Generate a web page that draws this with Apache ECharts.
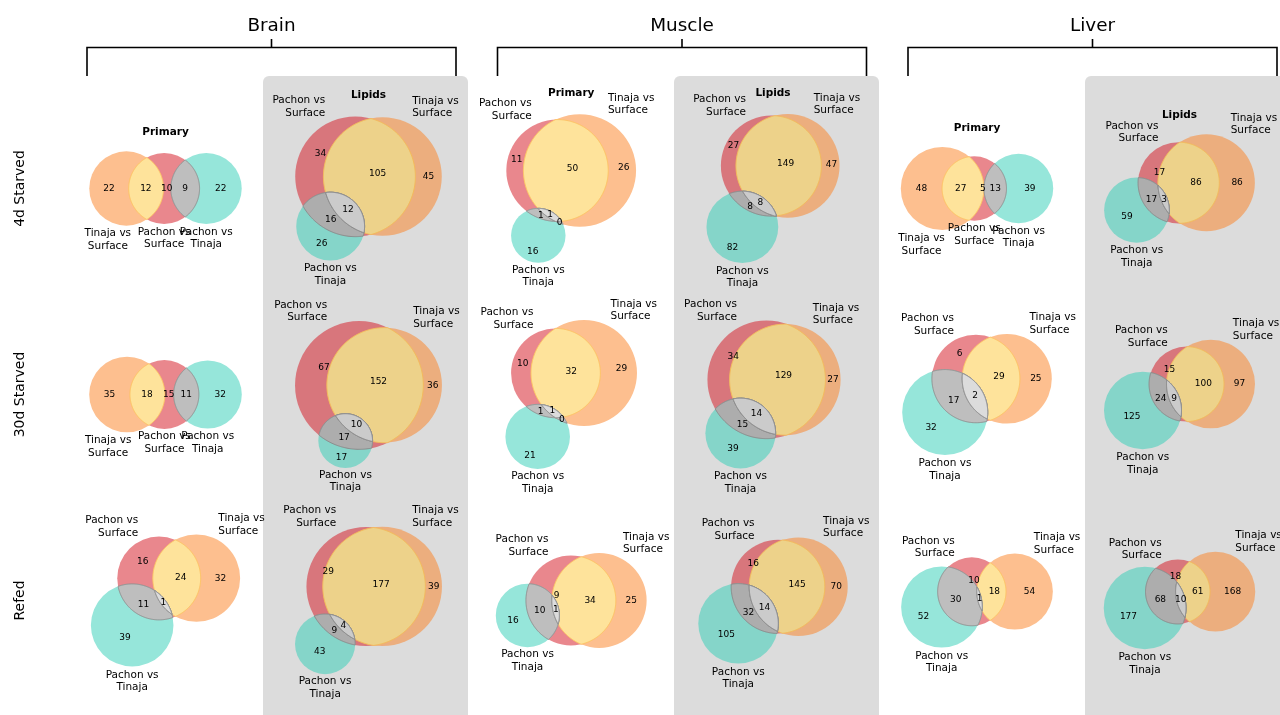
<!DOCTYPE html>
<html><head><meta charset="utf-8">
<script src="https://cdn.jsdelivr.net/npm/echarts@6/dist/echarts.min.js"></script>
<style>html,body{margin:0;padding:0;background:#fff}#c{width:1280px;height:715px}</style>
</head><body><div id="c"></div>
<script>
// ---------------- DATA ----------------
const rowNames = ['4d Starved', '30d Starved', 'Refed'];
const tissues = ['Brain', 'Muscle', 'Liver'];
const panelKinds = ['Primary', 'Lipids'];
const setLabels = ['Pachon vs\nSurface', 'Tinaja vs\nSurface', 'Pachon vs\nTinaja'];
// subset counts per row (4d, 30d, Refed), order:
// [A only, B only, A∩B, C only, A∩C, B∩C, A∩B∩C]
// A = Pachon vs Surface, B = Tinaja vs Surface, C = Pachon vs Tinaja
const brainPrimary  = [[10, 22, 12, 22, 9, 0, 0], [15, 35, 18, 32, 11, 0, 0], [16, 32, 24, 39, 11, 0, 1]];
const brainLipids   = [[34, 45, 105, 26, 16, 0, 12], [67, 36, 152, 17, 17, 0, 10], [29, 39, 177, 43, 9, 0, 4]];
const musclePrimary = [[11, 26, 50, 16, 1, 0, 1], [10, 29, 32, 21, 1, 0, 1], [9, 25, 34, 16, 10, 0, 1]];
const muscleLipids  = [[27, 47, 149, 82, 8, 0, 8], [34, 27, 129, 39, 15, 0, 14], [16, 70, 145, 105, 32, 0, 14]];
const liverPrimary  = [[5, 48, 27, 39, 13, 0, 0], [6, 25, 29, 32, 17, 0, 2], [10, 54, 18, 52, 30, 0, 1]];
const liverLipids   = [[17, 86, 86, 59, 17, 0, 3], [15, 97, 100, 125, 24, 0, 9], [18, 168, 61, 177, 68, 0, 10]];
const vennData = [[brainPrimary, brainLipids], [musclePrimary, muscleLipids], [liverPrimary, liverLipids]];

// ---------------- LAYOUT / STYLE ----------------
const colX = [165.5, 368.5, 571.2, 773, 977, 1179.5];
const rowY = [188.5, 394.5, 600.5];
const tissueX = [271.5, 682, 1092.5];
const grayLeft = [263, 674, 1085];
const BOX = 172, MARGIN = 0.1;
const FONT = '"DejaVu Sans", sans-serif';
const WHITE = [255, 255, 255], GRAYBG = [220, 220, 220];
const BASE = {A: [211, 15, 27], B: [251, 127, 31], C: [45, 205, 181], AB: [253, 199, 55],
              AC: [125, 125, 125], BC: [135, 135, 135], ABC: [185, 185, 185]};
function mixA(c, bg, a) { return c.map((v, i) => v * a + bg[i] * (1 - a)); }
function rgb(c) { return 'rgb(' + c.map(v => Math.round(v)).join(',') + ')'; }

// ---------------- VENN GEOMETRY (area-proportional) ----------------
function lensArea(r1, r2, d) {
  if (d >= r1 + r2) return 0;
  if (d <= Math.abs(r1 - r2)) return Math.PI * Math.min(r1, r2) ** 2;
  const a1 = Math.acos((d * d + r1 * r1 - r2 * r2) / (2 * d * r1));
  const a2 = Math.acos((d * d + r2 * r2 - r1 * r1) / (2 * d * r2));
  return r1 * r1 * a1 + r2 * r2 * a2 - 0.5 * Math.sqrt((-d + r1 + r2) * (d + r1 - r2) * (d - r1 + r2) * (d + r1 + r2));
}
function findDist(r1, r2, area) {
  if (area <= 1e-12) return r1 + r2;
  if (area >= Math.PI * Math.min(r1, r2) ** 2 - 1e-12) return Math.abs(r1 - r2);
  let lo = Math.abs(r1 - r2), hi = r1 + r2;
  for (let i = 0; i < 80; i++) {
    const m = (lo + hi) / 2;
    if (lensArea(r1, r2, m) > area) lo = m; else hi = m;
  }
  return (lo + hi) / 2;
}
function layoutVenn(counts) {
  const tot = counts.reduce((a, b) => a + b, 0);
  const a = counts.map(v => v / tot);
  const Aa = a[0] + a[2] + a[4] + a[6], Ab = a[1] + a[2] + a[5] + a[6], Ac = a[3] + a[4] + a[5] + a[6];
  const Aab = a[2] + a[6], Abc = a[5] + a[6], Aac = a[4] + a[6];
  const r = [Math.sqrt(Aa / Math.PI), Math.sqrt(Ab / Math.PI), Math.sqrt(Ac / Math.PI)];
  const d = [findDist(r[0], r[1], Aab), findDist(r[1], r[2], Abc), findDist(r[2], r[0], Aac)]; // ab, bc, ac
  const collinear = Abc <= 1e-12;
  let centers;
  if (collinear) {
    const dac = Math.max(d[2], r[1] + r[2] - d[0]);
    centers = [[0, 0], [-d[0], 0], [dac, 0]];
  } else {
    for (let i = 0; i < 3; i++) {
      const j = (i + 1) % 3, k = (i + 2) % 3;
      if (d[i] > d[j] + d[k]) {
        const lo = d[j] < d[k] ? j : k, hi = d[j] < d[k] ? k : j;
        d[i] = d[hi] + d[lo] * 0.8;
      }
    }
    const [dab, dbc, dac] = d;
    const cx = (dac * dac - dbc * dbc + dab * dab) / (2 * dab);
    const cy = -Math.sqrt(Math.max(0, dac * dac - cx * cx));
    centers = [[0, 0], [dab, 0], [cx, cy]];
  }
  return {circles: centers.map((c, i) => [c[0], c[1], r[i]]), collinear};
}
function circleX(c1, c2) {
  const dx = c2[0] - c1[0], dy = c2[1] - c1[1], d = Math.hypot(dx, dy);
  if (d > c1[2] + c2[2] || d < Math.abs(c1[2] - c2[2]) || d === 0) return [];
  const a = (c1[2] * c1[2] - c2[2] * c2[2] + d * d) / (2 * d);
  const h = Math.sqrt(Math.max(0, c1[2] * c1[2] - a * a));
  const mx = c1[0] + a * dx / d, my = c1[1] + a * dy / d;
  return [[mx + h * dy / d, my - h * dx / d], [mx - h * dy / d, my + h * dx / d]];
}
function intersectPoly(circs) {
  const inside = (p, skip, tol) => circs.every((c, j) => j === skip || Math.hypot(p[0] - c[0], p[1] - c[1]) <= c[2] * (1 + tol));
  const pts = [];
  const K = 360;
  circs.forEach((c, i) => {
    for (let k = 0; k < K; k++) {
      const th = 2 * Math.PI * k / K;
      const p = [c[0] + c[2] * Math.cos(th), c[1] + c[2] * Math.sin(th)];
      if (inside(p, i, 1e-9)) pts.push(p);
    }
  });
  for (let i = 0; i < circs.length; i++) for (let j = i + 1; j < circs.length; j++) {
    circleX(circs[i], circs[j]).forEach(p => { if (inside(p, -1, 1e-6)) pts.push(p); });
  }
  if (pts.length < 3) return null;
  const mx = pts.reduce((s, p) => s + p[0], 0) / pts.length, my = pts.reduce((s, p) => s + p[1], 0) / pts.length;
  pts.sort((p, q) => Math.atan2(p[1] - my, p[0] - mx) - Math.atan2(q[1] - my, q[0] - mx));
  return pts;
}
function bitsAt(circs, x, y) {
  return circs.reduce((b, c, j) => b | ((Math.hypot(x - c[0], y - c[1]) <= c[2]) ? (1 << j) : 0), 0);
}
function regionAreas(circs, bb) {
  const step = Math.max(bb[2] - bb[0], bb[3] - bb[1]) / 320;
  const n = [0, 0, 0, 0, 0, 0, 0];
  for (let x = bb[0] + step / 2; x < bb[2]; x += step) for (let y = bb[1] + step / 2; y < bb[3]; y += step) {
    const b = bitsAt(circs, x, y);
    if (b) n[b - 1]++;
  }
  return n.map(v => v * step * step);
}
// label position from the region's boundary arcs:
// crescent (one convex + one concave arc) -> midpoint of the two arc midpoints,
// otherwise arc midpoints weighted by arc length
function regionLabelPos(circs) {
  const M = 1440;
  const arcs = [];
  for (let i = 0; i < 7; i++) arcs.push([]);
  circs.forEach(c => {
    const inB = [], outB = [], pts = [];
    for (let m = 0; m < M; m++) {
      const th = 2 * Math.PI * m / M, ux = Math.cos(th), uy = Math.sin(th);
      pts.push([c[0] + c[2] * ux, c[1] + c[2] * uy]);
      inB.push(bitsAt(circs, c[0] + c[2] * (1 - 1e-6) * ux, c[1] + c[2] * (1 - 1e-6) * uy));
      outB.push(bitsAt(circs, c[0] + c[2] * (1 + 1e-6) * ux, c[1] + c[2] * (1 + 1e-6) * uy));
    }
    const seg = 2 * Math.PI * c[2] / M;
    for (let b = 1; b <= 7; b++) {
      const on = inB.map((v, m) => v === b || outB[m] === b);
      if (!on.some(Boolean)) continue;
      if (on.every(Boolean)) { arcs[b - 1].push({len: M * seg, mid: [c[0], c[1]], convex: inB[0] === b}); continue; }
      const start = on.findIndex(v => !v);
      let run = [];
      const flush = () => {
        const mi = run[Math.floor(run.length / 2)];
        arcs[b - 1].push({len: run.length * seg, mid: pts[mi], convex: inB[mi] === b});
        run = [];
      };
      for (let q = 1; q <= M; q++) {
        const m = (start + q) % M;
        if (on[m]) run.push(m); else if (run.length) flush();
      }
      if (run.length) flush();
    }
  });
  return arcs.map(list => {
    if (!list.length) return null;
    if (list.length === 2 && list[0].convex !== list[1].convex) {
      return [(list[0].mid[0] + list[1].mid[0]) / 2, (list[0].mid[1] + list[1].mid[1]) / 2];
    }
    let w = 0, sx = 0, sy = 0;
    list.forEach(a => { w += a.len; sx += a.mid[0] * a.len; sy += a.mid[1] * a.len; });
    return [sx / w, sy / w];
  });
}

// ---------------- RENDERERS ----------------
function shapeRenderer(shapes) {
  return function (params, api) {
    const s = shapes[api.value(2)];
    if (s.kind === 'circle') {
      const c = api.coord([s.cx, s.cy]);
      const rr = api.size([s.r, 0])[0];
      return {type: 'circle', shape: {cx: c[0], cy: c[1], r: rr}, style: {fill: s.fill}};
    }
    return {type: 'polygon', shape: {points: s.pts.map(p => api.coord(p))},
            style: {fill: s.fill, stroke: s.stroke, lineWidth: 1, lineJoin: 'round'}};
  };
}
function textRenderer(items) {
  return function (params, api) {
    const t = items[api.value(2)];
    const p = api.coord([t.x, t.y]);
    let y = p[1], va = 'middle';
    if (t.va === 'top') { y -= 0.19 * t.fs; va = 'top'; }
    else if (t.va === 'baseline') { y += 0.254 * t.fs; va = 'bottom'; }
    return {type: 'text', x: p[0], y: y,
            style: {text: t.text, fill: '#000', fontSize: t.fs, fontFamily: FONT, align: t.ha, verticalAlign: va,
                    textAlign: t.ha, textVerticalAlign: va, lineHeight: Math.round(t.fs * 1.2 * 10) / 10}};
  };
}

// ---------------- BUILD ----------------
const grids = [], xAxes = [], yAxes = [], series = [], graphics = [];
grayLeft.forEach(x => {
  graphics.push({type: 'rect', z: -10, silent: true, shape: {x: x, y: 76, width: 205, height: 700, r: [6, 6, 0, 0]},
                 style: {fill: '#dcdcdc'}});
});
tissues.forEach((name, t) => {
  const c = tissueX[t];
  const x0 = c - 184.5, x1 = c + 184.5;
  graphics.push({type: 'text', z: 50, x: c, y: 30.7 + 0.254 * 18.4,
                 style: {text: name, fontSize: 18.4, fontFamily: FONT, fill: '#000', align: 'center', verticalAlign: 'bottom', textAlign: 'center', textVerticalAlign: 'bottom'}});
  graphics.push({type: 'polyline', z: 50, shape: {points: [[x0, 76], [x0, 47.5], [x1, 47.5], [x1, 76]]}, style: {stroke: '#000', lineWidth: 1.6, fill: null}});
  graphics.push({type: 'line', z: 50, shape: {x1: c, y1: 47.5, x2: c, y2: 39}, style: {stroke: '#000', lineWidth: 1.6}});
});
rowNames.forEach((name, r) => {
  graphics.push({type: 'text', z: 50, x: 20, y: rowY[r], rotation: Math.PI / 2,
                 style: {text: name, fontSize: 14, fontFamily: FONT, fill: '#000', align: 'center', verticalAlign: 'middle', textAlign: 'center', textVerticalAlign: 'middle'}});
});

let pi = 0;
for (let r = 0; r < 3; r++) for (let t = 0; t < 3; t++) for (let k = 0; k < 2; k++) {
  const counts = vennData[t][k][r];
  const L = layoutVenn(counts);
  const circs = L.circles;
  const bb = [Math.min(...circs.map(c => c[0] - c[2])), Math.min(...circs.map(c => c[1] - c[2])),
              Math.max(...circs.map(c => c[0] + c[2])), Math.max(...circs.map(c => c[1] + c[2]))];
  const w = bb[2] - bb[0] + 2 * MARGIN, h = bb[3] - bb[1] + 2 * MARGIN;
  const s = Math.min(BOX / w, BOX / h);
  const gw = w * s, gh = h * s;
  const cx = colX[2 * t + k], cy = rowY[r];
  grids.push({left: cx - gw / 2, top: cy - gh / 2, width: gw, height: gh, containLabel: false});
  xAxes.push({type: 'value', gridIndex: pi, min: bb[0] - MARGIN, max: bb[2] + MARGIN, show: false});
  yAxes.push({type: 'value', gridIndex: pi, min: bb[1] - MARGIN, max: bb[3] + MARGIN, show: false});

  const bg = k === 1 ? GRAYBG : WHITE;
  const grayEdge = rgb(mixA(BASE.AC, bg, 0.85));
  const shapes = [];
  ['A', 'B', 'C'].forEach((key, i) => shapes.push({kind: 'circle', cx: circs[i][0], cy: circs[i][1], r: circs[i][2], fill: rgb(mixA(BASE[key], bg, 0.5)), x: circs[i][0], y: circs[i][1]}));
  const lens = [
    {set: [0, 1], key: 'AB', stroke: rgb(mixA(BASE.AB, mixA(BASE.B, bg, 0.5), 0.5))},
    {set: [0, 2], key: 'AC', stroke: grayEdge},
    {set: [1, 2], key: 'BC', stroke: grayEdge},
    {set: [0, 1, 2], key: 'ABC', stroke: grayEdge}
  ];
  lens.forEach(l => {
    const pts = intersectPoly(l.set.map(i => circs[i]));
    if (pts) shapes.push({kind: 'poly', pts, fill: rgb(mixA(BASE[l.key], bg, 0.5)), stroke: l.stroke, x: pts[0][0], y: pts[0][1]});
  });
  series.push({type: 'custom', coordinateSystem: 'cartesian2d', xAxisIndex: pi, yAxisIndex: pi, clip: false, silent: true, animation: false, z: 2,
               data: shapes.map((sh, i) => [sh.x, sh.y, i]), renderItem: shapeRenderer(shapes)});

  const texts = [];
  const areas = regionAreas(circs, bb);
  const lpos = regionLabelPos(circs);
  lpos.forEach((p, i) => {
    if (!p || areas[i] <= 0) return;
    if (counts[i] === 0 && areas[i] < 2e-4) return;
    texts.push({x: p[0], y: p[1], text: String(counts[i]), fs: 9, ha: 'center', va: 'middle'});
  });
  if (L.collinear) {
    const shift = [0, -0.5, 0];
    circs.forEach((c, i) => texts.push({x: c[0] + shift[i] * c[2], y: c[1] - 1.1 * c[2], text: setLabels[i], fs: 10.5, ha: 'center', va: 'top'}));
  } else {
    texts.push({x: circs[0][0] - circs[0][2] / 2, y: circs[0][1] + circs[0][2], text: setLabels[0], fs: 10.5, ha: 'right', va: 'baseline'});
    texts.push({x: circs[1][0] + circs[1][2] / 2, y: circs[1][1] + circs[1][2], text: setLabels[1], fs: 10.5, ha: 'left', va: 'baseline'});
    texts.push({x: circs[2][0], y: circs[2][1] - 1.1 * circs[2][2], text: setLabels[2], fs: 10.5, ha: 'center', va: 'top'});
  }
  series.push({type: 'custom', coordinateSystem: 'cartesian2d', xAxisIndex: pi, yAxisIndex: pi, clip: false, silent: true, animation: false, z: 5,
               data: texts.map((tx, i) => [tx.x, tx.y, i]), renderItem: textRenderer(texts)});

  if (r === 0) {
    graphics.push({type: 'text', z: 50, x: cx, y: cy - gh / 2 - 6 + 0.254 * 10.5,
                   style: {text: panelKinds[k], fontSize: 10.5, fontWeight: 'bold', fontFamily: FONT, fill: '#000', align: 'center', verticalAlign: 'bottom', textAlign: 'center', textVerticalAlign: 'bottom'}});
  }
  pi++;
}

const chart = echarts.init(document.getElementById('c'), null, {renderer: 'canvas'});
chart.setOption({
  backgroundColor: '#ffffff',
  animation: false,
  grid: grids, xAxis: xAxes, yAxis: yAxes,
  series: series,
  graphic: graphics
});
</script></body></html>
